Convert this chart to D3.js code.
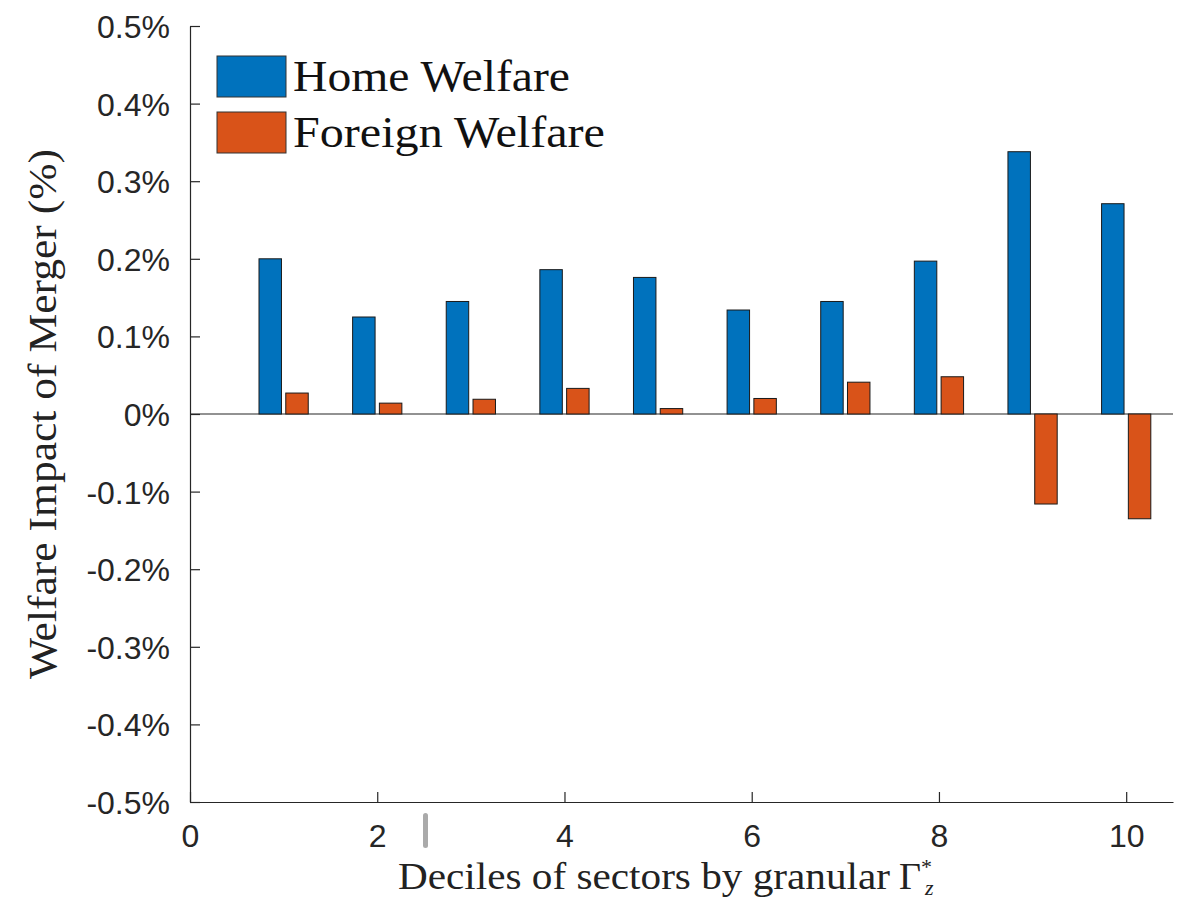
<!DOCTYPE html>
<html>
<head>
<meta charset="utf-8">
<script src="https://cdn.jsdelivr.net/npm/d3@7"></script>
<style>
  body { margin: 0; background: #fff; }
  .tick text { font-family: "Liberation Sans", Arial, sans-serif; }
</style>
</head>
<body>
<div class="graph"></div>
<script>
// data
const deciles = [1, 2, 3, 4, 5, 6, 7, 8, 9, 10];
const homeWelfare = [0.200, 0.125, 0.145, 0.186, 0.176, 0.134, 0.145, 0.197, 0.338, 0.271];
const foreignWelfare = [0.027, 0.014, 0.019, 0.033, 0.007, 0.020, 0.041, 0.048, -0.116, -0.135];
const seriesNames = ["Home Welfare", "Foreign Welfare"];
const seriesColors = ["#0072BD", "#D95319"];
const xTicks = [0, 2, 4, 6, 8, 10];
const yTicks = [-0.5, -0.4, -0.3, -0.2, -0.1, 0, 0.1, 0.2, 0.3, 0.4, 0.5];

const width = 1186, height = 902;
const axisColor = "#262626";
const serif = "'Liberation Serif', 'Times New Roman', serif";

const svg = d3.select(".graph").append("svg")
    .attr("width", width)
    .attr("height", height);

//Scales
const x = d3.scaleLinear().domain([0, 10.5]).range([190, 1173]);
const y = d3.scaleLinear().domain([-0.5, 0.5]).range([802, 26]);

const barW = x(0.24) - x(0);
const offset = 0.143;

//Axes
const xAxis = svg.append("g")
    .attr("transform", "translate(0," + y(-0.5) + ")")
    .call(d3.axisBottom(x).tickValues(xTicks).tickSize(-10).tickPadding(22).tickSizeOuter(0));

const yAxis = svg.append("g")
    .attr("transform", "translate(" + x(0) + ",0)")
    .call(d3.axisLeft(y).tickValues(yTicks).tickSize(-10).tickPadding(20).tickSizeOuter(0)
        .tickFormat(d => (d === 0 ? "0" : d.toFixed(1)) + "%"));

[xAxis, yAxis].forEach(g => {
    g.select(".domain").attr("stroke", axisColor).attr("stroke-width", 1.2);
    g.selectAll(".tick line").attr("stroke", axisColor).attr("stroke-width", 1.2);
    g.selectAll(".tick text").attr("fill", axisColor).attr("font-size", 32);
});
yAxis.selectAll(".tick text").attr("dy", "0.36em");

//Zero line
svg.append("line")
    .attr("x1", x(0)).attr("x2", x(10.5))
    .attr("y1", y(0)).attr("y2", y(0))
    .attr("stroke", axisColor)
    .attr("stroke-width", 1.2);

//Bars
const series = [homeWelfare, foreignWelfare];
series.forEach((vals, si) => {
    svg.append("g").selectAll("rect")
        .data(deciles)
        .join("rect")
        .attr("x", d => x(d + (si === 0 ? -offset : offset)) - barW / 2)
        .attr("y", (d, i) => y(Math.max(0, vals[i])))
        .attr("width", barW)
        .attr("height", (d, i) => Math.abs(y(vals[i]) - y(0)))
        .attr("fill", seriesColors[si])
        .attr("stroke", "#1a1a1a")
        .attr("stroke-width", 1);
});

//Legend
const legendWidths = [277, 312];
const legend = svg.append("g");
seriesNames.forEach((name, i) => {
    const top = 56 + i * 56;
    legend.append("rect")
        .attr("x", 217).attr("y", top)
        .attr("width", 69).attr("height", 41)
        .attr("fill", seriesColors[i])
        .attr("stroke", "#333")
        .attr("stroke-width", 1);
    legend.append("text")
        .attr("x", 293).attr("y", top + 35)
        .attr("font-family", serif)
        .attr("font-size", 44)
        .attr("textLength", legendWidths[i])
        .attr("lengthAdjust", "spacingAndGlyphs")
        .attr("fill", "#111")
        .text(name);
});

//Axis labels
svg.append("text")
    .attr("transform", "translate(56," + y(0) + ") rotate(-90)")
    .attr("text-anchor", "middle")
    .attr("font-family", serif)
    .attr("font-size", 39)
    .attr("textLength", 530)
    .attr("lengthAdjust", "spacingAndGlyphs")
    .attr("fill", "#222")
    .text("Welfare Impact of Merger (%)");

const xl = svg.append("text")
    .attr("x", 398).attr("y", 889)
    .attr("font-family", serif)
    .attr("font-size", 38)
    .attr("fill", "#222");
xl.append("tspan")
    .attr("textLength", 492)
    .attr("lengthAdjust", "spacingAndGlyphs")
    .text("Deciles of sectors by granular");
xl.append("tspan").attr("x", 899).text("\u0393");
xl.append("tspan").attr("dy", -15).attr("font-size", 22).text("*");
xl.append("tspan").attr("x", 925).attr("dy", 21).attr("font-size", 22).attr("font-style", "italic").text("z");

//Grey marker below the axis
svg.append("rect")
    .attr("x", 423).attr("y", 813)
    .attr("width", 5).attr("height", 35)
    .attr("rx", 2.5)
    .attr("fill", "#aaa");
</script>
</body>
</html>
